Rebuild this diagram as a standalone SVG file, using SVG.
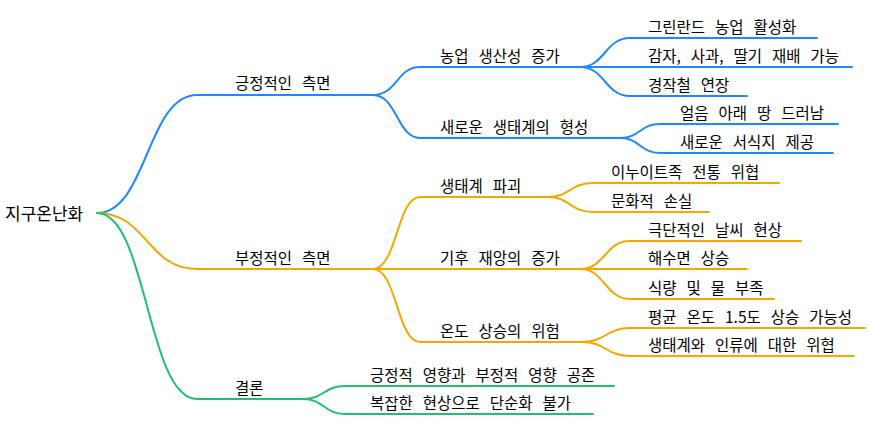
<svg xmlns="http://www.w3.org/2000/svg" width="869" height="425" viewBox="0 0 869 425">
<style>
text{font-family:"Noto Sans CJK KR","Malgun Gothic",sans-serif;font-size:15.5px;word-spacing:6.5px;fill:#000}
#root text{font-size:17px}
.c path{fill:none;stroke-width:2;stroke-linecap:round}
.b path{stroke:#1E88FF}
.o path{stroke:#F5A800}
.g path{stroke:#20C070}
</style>
<rect width="869" height="425" fill="#fff"/>
<g id="connectors" class="c">
<g class="b">
<path d="M97,213 C147,213 147,95 197,95 H373"/>
<path d="M373,95 C397,95 397,67 420,67 H580"/>
<path d="M373,95 C397,95 397,138 420,138 H620"/>
<path d="M580,67 C605,67 605,38 630,38 H817"/>
<path d="M580,67 H852"/>
<path d="M580,67 C605,67 605,96 630,96 H747"/>
<path d="M620,138 C640,138 640,124 660,124 H838"/>
<path d="M620,138 C640,138 640,153 660,153 H833"/>
</g>
<g class="o">
<path d="M97,213 C147,213 147,269 197,269 H373"/>
<path d="M373,269 C397,269 397,197 420,197 H548"/>
<path d="M373,269 H580"/>
<path d="M373,269 C397,269 397,342 420,342 H582"/>
<path d="M548,197 C570,197 570,183 593,183 H779"/>
<path d="M548,197 C570,197 570,212 593,212 H709"/>
<path d="M580,269 C605,269 605,241 630,241 H801"/>
<path d="M580,269 H747"/>
<path d="M580,269 C605,269 605,299 630,299 H774"/>
<path d="M582,342 C606,342 606,328 630,328 H865"/>
<path d="M582,342 C606,342 606,356 630,356 H854"/>
</g>
<g class="g">
<path d="M97,213 C147,213 147,399 197,399 H303"/>
<path d="M303,399 C324,399 324,386 345,386 H614"/>
<path d="M303,399 C324,399 324,414 345,414 H593"/>
</g>
</g>
<g id="root"><text x="5" y="220">지구온난화</text></g>
<g id="n-positive"><text x="235" y="89">긍정적인 측면</text></g>
<g id="n-agri"><text x="440" y="62">농업 생산성 증가</text></g>
<g id="n-greenland"><text x="648" y="33">그린란드 농업 활성화</text></g>
<g id="n-crops"><text x="648" y="62">감자, 사과, 딸기 재배 가능</text></g>
<g id="n-season"><text x="648" y="91">경작철 연장</text></g>
<g id="n-neweco"><text x="440" y="133">새로운 생태계의 형성</text></g>
<g id="n-ice"><text x="680" y="119">얼음 아래 땅 드러남</text></g>
<g id="n-habitat"><text x="680" y="148">새로운 서식지 제공</text></g>
<g id="n-negative"><text x="235" y="264">부정적인 측면</text></g>
<g id="n-ecodestroy"><text x="440" y="192">생태계 파괴</text></g>
<g id="n-inuit"><text x="611" y="178">이누이트족 전통 위협</text></g>
<g id="n-culture"><text x="611" y="207">문화적 손실</text></g>
<g id="n-disaster"><text x="440" y="264">기후 재앙의 증가</text></g>
<g id="n-weather"><text x="648" y="236">극단적인 날씨 현상</text></g>
<g id="n-sea"><text x="648" y="264">해수면 상승</text></g>
<g id="n-food"><text x="648" y="294">식량 및 물 부족</text></g>
<g id="n-temp"><text x="440" y="337">온도 상승의 위험</text></g>
<g id="n-avg"><text x="648" y="323">평균 온도 1.5도 상승 가능성</text></g>
<g id="n-threat"><text x="648" y="351">생태계와 인류에 대한 위협</text></g>
<g id="n-conclusion"><text x="235" y="394">결론</text></g>
<g id="n-coexist"><text x="370" y="381">긍정적 영향과 부정적 영향 공존</text></g>
<g id="n-complex"><text x="370" y="409">복잡한 현상으로 단순화 불가</text></g>
</svg>
